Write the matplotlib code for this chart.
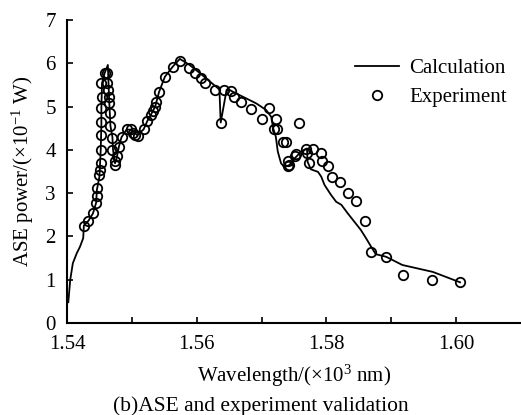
import matplotlib
matplotlib.use("Agg")
import matplotlib.pyplot as plt

plt.rcParams['font.family'] = ['Liberation Serif', 'DejaVu Serif']
plt.rcParams['mathtext.fontset'] = 'custom'
plt.rcParams['mathtext.rm'] = 'Liberation Serif'
plt.rcParams['mathtext.it'] = 'Liberation Serif:italic'

calc_x = [1.5402, 1.5405, 1.5409, 1.5415, 1.5420, 1.5425, 1.5426, 1.5433, 1.5440, 1.5445,
          1.5446, 1.5450, 1.5452, 1.5453, 1.5453, 1.5454, 1.5458, 1.5463, 1.5464, 1.5465,
          1.5467, 1.5470, 1.5471, 1.5474, 1.5476, 1.5480, 1.5484, 1.5492, 1.5500, 1.5508,
          1.5518, 1.5524, 1.5529, 1.5536, 1.5542, 1.5551, 1.5563, 1.5574, 1.5589, 1.5605,
          1.5620, 1.5633, 1.5635, 1.5637, 1.5646, 1.5651, 1.5661, 1.5676, 1.5692, 1.5707,
          1.5715, 1.5718, 1.5722, 1.5725, 1.5730, 1.5735, 1.5743, 1.5751, 1.5761, 1.5770,
          1.5771, 1.5776, 1.5787, 1.5792, 1.5797, 1.5807, 1.5815, 1.5823, 1.5833, 1.5843,
          1.5853, 1.5861, 1.5869, 1.5876, 1.5892, 1.5917, 1.5964, 1.6006]
calc_y = [0.48, 1.00, 1.38, 1.61, 1.76, 1.96, 2.25, 2.36, 2.53, 2.78,
          3.07, 3.38, 4.00, 4.57, 4.97, 5.54, 5.77, 5.96, 5.54, 5.15,
          4.55, 4.30, 4.00, 3.69, 3.76, 4.07, 4.29, 4.47, 4.46, 4.34,
          4.47, 4.67, 4.80, 5.00, 5.34, 5.69, 5.92, 6.10, 5.96, 5.77,
          5.58, 5.42, 5.38, 4.63, 5.38, 5.38, 5.30, 5.19, 5.07, 4.92,
          4.76, 4.49, 4.30, 3.96, 3.69, 3.60, 3.65, 3.80, 3.96, 4.03,
          3.72, 3.55, 3.49, 3.38, 3.19, 2.96, 2.80, 2.73, 2.53, 2.34,
          2.15, 1.96, 1.76, 1.59, 1.53, 1.34, 1.18, 0.94]

exp_x = [1.5426, 1.5433, 1.5440, 1.5445, 1.5446, 1.5446, 1.5450, 1.5451, 1.5452, 1.5452,
         1.5453, 1.5453, 1.5453, 1.5454, 1.5452, 1.5458, 1.5462, 1.5461, 1.5463, 1.5464,
         1.5465, 1.5466, 1.5467, 1.5470, 1.5470, 1.5474, 1.5474, 1.5477, 1.5480, 1.5485,
         1.5492, 1.5498, 1.5501, 1.5505, 1.5510, 1.5518, 1.5524, 1.5529, 1.5533, 1.5536,
         1.5537, 1.5542, 1.5551, 1.5563, 1.5574, 1.5588, 1.5597, 1.5606, 1.5613, 1.5628,
         1.5637, 1.5642, 1.5653, 1.5658, 1.5669, 1.5683, 1.5700, 1.5712, 1.5719, 1.5722,
         1.5724, 1.5733, 1.5737, 1.5740, 1.5740, 1.5743, 1.5752, 1.5753, 1.5758, 1.5768,
         1.5770, 1.5773, 1.5779, 1.5791, 1.5793, 1.5802, 1.5808, 1.5821, 1.5833, 1.5846,
         1.5860, 1.5868, 1.5892, 1.5918, 1.5963, 1.6006]
exp_y = [2.25, 2.36, 2.53, 2.78, 2.93, 3.11, 3.42, 3.53, 3.70, 4.00,
         4.34, 4.65, 4.96, 5.23, 5.54, 5.78, 5.78, 5.54, 5.38, 5.23,
         5.09, 4.86, 4.55, 4.28, 4.00, 3.73, 3.65, 3.86, 4.07, 4.29,
         4.47, 4.47, 4.38, 4.34, 4.32, 4.47, 4.67, 4.80, 4.90, 5.00,
         5.11, 5.34, 5.69, 5.92, 6.06, 5.90, 5.78, 5.67, 5.54, 5.37,
         4.63, 5.37, 5.36, 5.23, 5.11, 4.94, 4.71, 4.96, 4.47, 4.71,
         4.47, 4.19, 4.19, 3.63, 3.74, 3.65, 3.86, 3.90, 4.61, 4.03,
         3.92, 3.69, 4.01, 3.93, 3.75, 3.63, 3.38, 3.25, 3.01, 2.82,
         2.36, 1.65, 1.53, 1.11, 0.99, 0.94]

x_ticks = [1.54, 1.55, 1.56, 1.57, 1.58, 1.59, 1.60]
x_ticklabels = ['1.54', '', '1.56', '', '1.58', '', '1.60']
y_ticks = [0, 1, 2, 3, 4, 5, 6, 7]

fig = plt.figure(figsize=(5.21, 4.15), dpi=100)
ax = fig.add_axes([0.1286, 0.2217, 0.8714, 0.7303])

ax.plot(calc_x, calc_y, color='black', lw=1.3, label='Calculation')
ax.plot(exp_x, exp_y, linestyle='none', marker='o', markersize=6.8,
        markerfacecolor='none', markeredgecolor='black', markeredgewidth=1.3,
        label='Experiment')

ax.set_xlim(1.54, 1.61)
ax.set_ylim(0, 7)
ax.set_xticks(x_ticks)
ax.set_xticklabels(x_ticklabels)
ax.set_yticks(y_ticks)
ax.tick_params(direction='in', length=4, width=1.2, labelsize=15)
ax.tick_params(axis='x', pad=9)
ax.tick_params(axis='y', pad=8)
for s in ['top', 'right']:
    ax.spines[s].set_visible(False)
for s in ['left', 'bottom']:
    ax.spines[s].set_linewidth(1.5)

ax.set_ylabel(r'ASE power/($\times$10$^{-1}$ W)', fontsize=15, labelpad=7)
ax.set_xlabel(r'Wavelength/($\times$10$^{3}$ nm)', fontsize=15, labelpad=6)
fig.text(0.5, 0.022, '(b)ASE and experiment validation', ha='center', va='center', fontsize=15.5)

leg = ax.legend(loc='upper left', bbox_to_anchor=(0.616, 0.9), frameon=False,
                fontsize=15, handlelength=2.1, handletextpad=0.5, labelspacing=0.45,
                borderaxespad=0)

fig.savefig('out.png', dpi=100)
